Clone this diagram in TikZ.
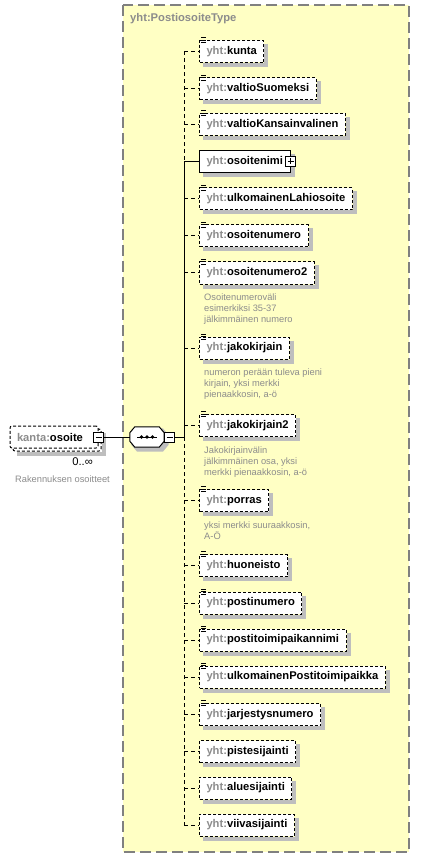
\documentclass[tikz,border=0pt]{standalone}
\usepackage{fontspec}
\setmainfont{Liberation Sans}

\definecolor{typefill}{HTML}{FFFFC4}
\definecolor{typeline}{HTML}{808080}
\definecolor{prefixgray}{HTML}{8C8C8C}
\definecolor{docgray}{HTML}{8C8C8C}
\definecolor{shadowgray}{HTML}{BEBEBE}

\newcommand{\pfx}[2]{\textcolor{prefixgray}{#1:}#2}
\newcommand{\seqoutline}[1]{([xshift=5pt]#1.north west) -- ([xshift=-5pt]#1.north east) -- ([yshift=-6pt]#1.north east) -- ([yshift=6pt]#1.south east) -- ([xshift=-5pt]#1.south east) -- ([xshift=5pt]#1.south west) -- ([yshift=6pt]#1.south west) -- ([yshift=-6pt]#1.north west) -- cycle}

\tikzset{
  elem/.style={draw=black, fill=white, line width=1pt, dash pattern=on 3pt off 2pt,
    minimum height=22pt, inner xsep=7pt, inner ysep=0pt, anchor=west,
    font=\fontsize{11.2}{13}\selectfont\bfseries},
  reqelem/.style={elem, solid},
  rootbox/.style={draw=black, fill=white, line width=1pt, dash pattern=on 3pt off 2pt,
    rounded corners=2pt, minimum width=88pt, minimum height=22pt, inner xsep=7pt, inner ysep=0pt,
    font=\fontsize{11.2}{13}\selectfont\bfseries},
  shadowline/.style={draw=shadowgray, line width=4pt, line join=miter},
  doc/.style={anchor=north west, inner sep=0pt, align=left, text=docgray,
    font=\fontsize{9.3}{11}\selectfont},
  conn/.style={line width=1pt},
  optconn/.style={conn, dash pattern=on 4pt off 3pt},
  toggle/.style={draw=black, fill=white, line width=0.8pt, minimum size=10pt, inner sep=0pt},
  minusbox/.style={toggle, path picture={
    \draw[line width=0.8pt] ([xshift=2pt]path picture bounding box.west) -- ([xshift=-2pt]path picture bounding box.east);}},
  plusbox/.style={toggle, path picture={
    \draw[line width=0.8pt] ([xshift=2pt]path picture bounding box.west) -- ([xshift=-2pt]path picture bounding box.east)
      ([yshift=-2pt]path picture bounding box.north) -- ([yshift=2pt]path picture bounding box.south);}},
  seqarea/.style={rectangle, minimum width=34pt, minimum height=20pt, inner sep=0pt},
}

\begin{document}
\begin{tikzpicture}[x=1pt, y=-1pt]
\fill[white] (0,0) rectangle (420,858);
\useasboundingbox (0,0) rectangle (420,858);

% complex type
\draw[fill=typefill, draw=typeline, line width=1.2pt, dash pattern=on 11pt off 5pt] (123,5) rectangle (409,852);
\node[anchor=west, inner sep=0pt, text=prefixgray, font=\fontsize{11.2}{13}\selectfont\bfseries] (typename) at (130,19) {yht:PostiosoiteType};

% root element
\node[rootbox] (kantaback) at (57,440) {};
\node[rootbox, text width=74pt, align=left] (kanta) at (54,437) {\pfx{kanta}{osoite}};
\draw[shadowline] ([xshift=2pt, yshift=-4pt]kantaback.north east) |- ([xshift=4pt, yshift=-2pt]kantaback.south west);
\node[minusbox] (kantaminus) at (kanta.east) {};
\node[anchor=east, inner sep=0pt, font=\fontsize{11.2}{13}\selectfont] (occurs) at (93,462) {0..∞};
\node[doc, anchor=west] (kantadoc) at (15,479.5) {Rakennuksen osoitteet};

% sequence
\node[seqarea] (seqshadow) at (150,440) {};
\draw[shadowline, line width=3pt, fill=shadowgray] \seqoutline{seqshadow};
\node[seqarea] (seq) at (147,437) {};
\draw[fill=white, line width=1pt] \seqoutline{seq};
\draw[line width=1pt] ([xshift=-10pt]seq.center) -- ([xshift=10pt]seq.center);
\foreach \d in {-5.5,0,5.5}
  \fill ([xshift=\d pt]seq.center) circle (1.8pt);
\node[minusbox] (seqminus) at (169.5,437) {};
\coordinate (fork) at (184,437);

\foreach \n/\y/\ic in {kunta/51.5/1, valtioSuomeksi/89/1, valtioKansainvalinen/124.5/1,
    ulkomainenLahiosoite/199/1, osoitenumero/236/1, osoitenumero2/273/1, jakokirjain/348/1,
    jakokirjain2/425.5/1, porras/500.5/1, huoneisto/565.5/1, postinumero/603/1,
    postitoimipaikannimi/640/1, ulkomainenPostitoimipaikka/677/1, jarjestysnumero/714.5/1,
    pistesijainti/751.5/0, aluesijainti/788/0, viivasijainti/825/0} {
  \node[elem] (\n) at (199,\y) {\pfx{yht}{\n}};
  \draw[shadowline] ([xshift=2pt, yshift=-4pt]\n.north east) |- ([xshift=4pt, yshift=-2pt]\n.south west);
  \draw[optconn] (fork |- \n.west) -- (\n.west);
  \ifnum\ic=1
    \draw[line width=0.8pt] ([shift={(2,-2.5)}]\n.north west) -- ++(5,0)
      ([shift={(2,0)}]\n.north west) -- ++(5,0)
      ([shift={(2,2.5)}]\n.north west) -- ++(5,0);
  \fi
}
\node[reqelem] (osoitenimi) at (199,161.5) {\pfx{yht}{osoitenimi}};
\draw[shadowline] ([xshift=2pt, yshift=-4pt]osoitenimi.north east) |- ([xshift=4pt, yshift=-2pt]osoitenimi.south west);
\node[plusbox] (osoitenimiplus) at (osoitenimi.east) {};

\node[doc] (osoitenumero2doc) at ([shift={(5,9.5)}]osoitenumero2.south west) {Osoitenumeroväli\\esimerkiksi 35-37\\jälkimmäinen numero};
\node[doc] (jakokirjaindoc) at ([shift={(5,9.5)}]jakokirjain.south west) {numeron perään tuleva pieni\\kirjain, yksi merkki\\pienaakkosin, a-ö};
\node[doc] (jakokirjain2doc) at ([shift={(5,9.5)}]jakokirjain2.south west) {Jakokirjainvälin\\jälkimmäinen osa, yksi\\merkki pienaakkosin, a-ö};
\node[doc] (porrasdoc) at ([shift={(5,9.5)}]porras.south west) {yksi merkki suuraakkosin,\\A-Ö};

% connectors
\draw[conn] (kantaminus.east) -- (seq.west);
\draw[conn] (seqminus.east) -- (fork);
\draw[optconn] (fork |- kunta.west) -- (fork |- osoitenimi.west);
\draw[conn] (fork |- osoitenimi.west) -- (fork);
\draw[optconn] (fork) -- (fork |- viivasijainti.west);
\draw[conn] (fork |- osoitenimi.west) -- (osoitenimi.west);
\end{tikzpicture}
\end{document}
